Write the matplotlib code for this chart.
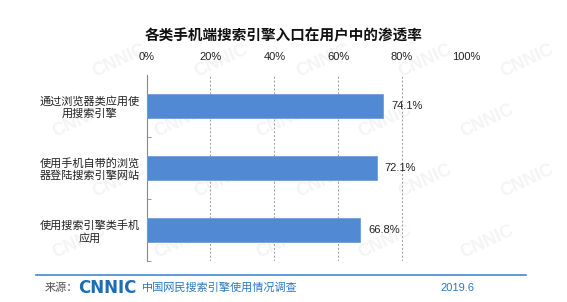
import numpy as np
import matplotlib.pyplot as plt
from matplotlib.lines import Line2D

plt.rcParams['font.family'] = ['Liberation Sans', 'Noto Sans CJK SC', 'DejaVu Sans']

# data
categories = ["通过浏览器类应用使\n用搜索引擎",
              "使用手机自带的浏览\n器登陆搜索引擎网站",
              "使用搜索引擎类手机\n应用"]
values = [74.1, 72.1, 66.8]
x_ticks = [0, 20, 40, 60, 80, 100]
title = "各类手机端搜索引擎入口在用户中的渗透率"

fig = plt.figure(figsize=(5.67, 3.02), dpi=100)

# faint watermark, kept behind the chart
for row in range(4):
    for col in range(5):
        fig.text(0.14 + col * 0.18 + (row % 2) * 0.07, 0.2 + row * 0.2, "CNNIC",
                 fontsize=13, fontweight='bold', color='#f4f4f4', rotation=25,
                 ha='center', va='center', zorder=-5)

ax = fig.add_axes([0.2584, 0.1358, 0.5635, 0.6159])
ax.set_zorder(1)
ax.set_facecolor('none')

y = np.arange(len(categories))
ax.barh(y, values, height=0.38, color='#5189d3', edgecolor='#6f9fdc', linewidth=0.6, zorder=3)
for yi, v in zip(y, values):
    ax.text(v + 2.5, yi, f"{v:.1f}%", va='center', ha='left', fontsize=8, color='#222222')

ax.set_xlim(0, 100)
ax.set_ylim(len(categories) - 0.5, -0.5)
ax.xaxis.tick_top()
ax.set_xticks(x_ticks)
ax.set_xticklabels([f"{t}%" for t in x_ticks], fontsize=8, color='#222222')
ax.tick_params(axis='x', length=0, pad=9)
ax.set_yticks(y)
ax.set_yticklabels(categories, fontsize=8, color='#222222', ha='center', multialignment='center')
ax.tick_params(axis='y', which='major', length=0, pad=41)
ax.set_yticks([0.5, 1.5, 2.5], minor=True)
ax.tick_params(axis='y', which='minor', direction='in', length=3, color='#888888')

for t in x_ticks[1:]:
    ax.axvline(t, color='#9a9a9a', linestyle=(0, (2, 2)), linewidth=0.7, zorder=1)

for s in ['top', 'right', 'bottom']:
    ax.spines[s].set_visible(False)
ax.spines['left'].set_color('#888888')
ax.spines['left'].set_linewidth(0.8)

fig.text(0.5, 0.88, title, ha='center', va='center', fontsize=10.5, fontweight='bold',
         color='#111111')

# footer
fig.add_artist(Line2D([0.063, 0.927], [0.088, 0.088], color='#4a86d0', linewidth=1.2))
fig.text(0.078, 0.046, "来源：", fontsize=8, color='#555555', va='center')
fig.text(0.138, 0.046, "CNNIC", fontsize=12, fontweight='bold', color='#1c6db5',
         va='center', family=['DejaVu Sans'])
fig.text(0.25, 0.046, "中国网民搜索引擎使用情况调查", fontsize=8, color='#2f78c0', va='center')
fig.text(0.776, 0.046, "2019.6", fontsize=8, color='#2f78c0', va='center')

fig.savefig("out.png", dpi=100)
